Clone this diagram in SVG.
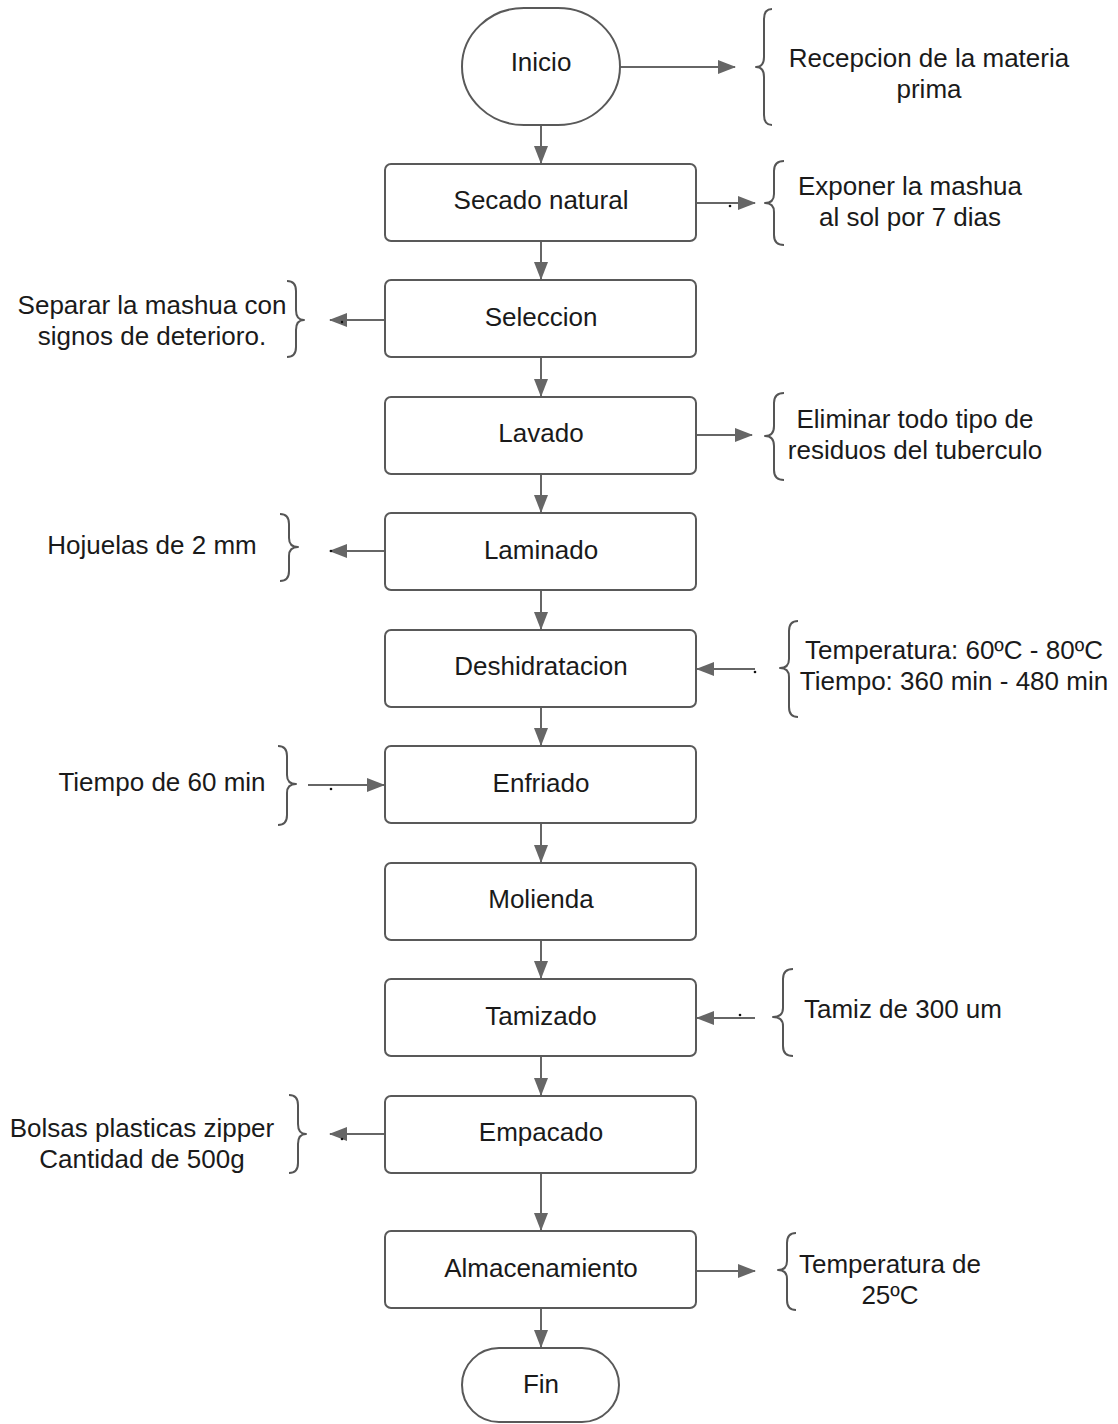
<svg xmlns="http://www.w3.org/2000/svg" width="1118" height="1424" viewBox="0 0 1118 1424">
<style>
.box{fill:#fff;stroke:#595959;stroke-width:2}
.ln{fill:none;stroke:#666;stroke-width:2}
.br{fill:none;stroke:#555;stroke-width:2;stroke-linejoin:round}
text{font-family:"Liberation Sans",Arial,sans-serif;font-size:26px;fill:#1a1a1a}
.c{text-anchor:middle}
</style>
<defs>
<marker id="ahb" markerWidth="18" markerHeight="14" refX="17" refY="7" orient="auto" markerUnits="userSpaceOnUse" viewBox="0 0 18 14">
<path d="M0,0 L18,7 L0,14 z" fill="#666"/>
</marker>
</defs>
<rect width="1118" height="1424" fill="#fff"/>

<g id="connectors">
<line class="ln" x1="541" y1="124" x2="541" y2="163" marker-end="url(#ahb)"/>
<line class="ln" x1="541" y1="241" x2="541" y2="279" marker-end="url(#ahb)"/>
<line class="ln" x1="541" y1="357" x2="541" y2="396" marker-end="url(#ahb)"/>
<line class="ln" x1="541" y1="474" x2="541" y2="512" marker-end="url(#ahb)"/>
<line class="ln" x1="541" y1="590" x2="541" y2="629" marker-end="url(#ahb)"/>
<line class="ln" x1="541" y1="707" x2="541" y2="745" marker-end="url(#ahb)"/>
<line class="ln" x1="541" y1="823" x2="541" y2="862" marker-end="url(#ahb)"/>
<line class="ln" x1="541" y1="940" x2="541" y2="978" marker-end="url(#ahb)"/>
<line class="ln" x1="541" y1="1056" x2="541" y2="1095" marker-end="url(#ahb)"/>
<line class="ln" x1="541" y1="1173" x2="541" y2="1230" marker-end="url(#ahb)"/>
<line class="ln" x1="541" y1="1308" x2="541" y2="1347" marker-end="url(#ahb)"/>

<line class="ln" x1="620" y1="67" x2="735" y2="67" marker-end="url(#ahb)"/>
<line class="ln" x1="696" y1="203" x2="755" y2="203" marker-end="url(#ahb)"/>
<line class="ln" x1="385" y1="320" x2="330" y2="320" marker-end="url(#ahb)"/>
<line class="ln" x1="696" y1="435" x2="752" y2="435" marker-end="url(#ahb)"/>
<line class="ln" x1="385" y1="551" x2="330" y2="551" marker-end="url(#ahb)"/>
<line class="ln" x1="755" y1="669" x2="697" y2="669" marker-end="url(#ahb)"/>
<line class="ln" x1="308" y1="785" x2="384" y2="785" marker-end="url(#ahb)"/>
<line class="ln" x1="755" y1="1018" x2="697" y2="1018" marker-end="url(#ahb)"/>
<line class="ln" x1="385" y1="1134" x2="330" y2="1134" marker-end="url(#ahb)"/>
<line class="ln" x1="696" y1="1271" x2="755" y2="1271" marker-end="url(#ahb)"/>

<g fill="#111">
<circle cx="730" cy="206" r="1.3"/>
<circle cx="342" cy="322" r="1.2"/>
<circle cx="331" cy="551" r="1.3"/>
<circle cx="755" cy="672" r="1.3"/>
<circle cx="331" cy="789" r="1.3"/>
<circle cx="740" cy="1015" r="1.3"/>
<circle cx="342" cy="1139" r="1.3"/>
</g>
</g>

<g id="braces">
<path class="br" d="M772,9 Q764,9 764,19 L764,57 Q764,67 756,67 Q764,67 764,77 L764,115 Q764,125 772,125"/>
<path class="br" d="M784,161 Q774,161 774,171 L774,194 Q774,203 765,203 Q774,203 774,212 L774,235 Q774,245 784,245"/>
<path class="br" d="M287,281 Q296,281 296,291 L296,310 Q296,320 304,320 Q296,320 296,330 L296,347 Q296,357 287,357"/>
<path class="br" d="M784,393 Q774,393 774,403 L774,426 Q774,436 765,436 Q774,436 774,446 L774,470 Q774,480 784,480"/>
<path class="br" d="M280,514 Q289,514 289,524 L289,538 Q289,547 298,547 Q289,547 289,556 L289,571 Q289,581 280,581"/>
<path class="br" d="M798,621 Q789,621 789,631 L789,659 Q789,668 780,668 Q789,668 789,677 L789,707 Q789,717 798,717"/>
<path class="br" d="M278,746 Q287,746 287,756 L287,775 Q287,784 296,784 Q287,784 287,793 L287,815 Q287,825 278,825"/>
<path class="br" d="M793,969 Q783,969 783,979 L783,1008 Q783,1017 773,1017 Q783,1017 783,1026 L783,1046 Q783,1056 793,1056"/>
<path class="br" d="M289,1095 Q298,1095 298,1105 L298,1124 Q298,1134 306,1134 Q298,1134 298,1144 L298,1163 Q298,1173 289,1173"/>
<path class="br" d="M796,1233 Q787,1233 787,1243 L787,1261 Q787,1270 778,1270 Q787,1270 787,1279 L787,1300 Q787,1310 796,1310"/>
</g>

<g id="n-inicio"><rect class="box" x="462" y="8" width="158" height="117" rx="62" ry="58.5"/><text class="c" x="541" y="71">Inicio</text></g>
<g id="n-secado"><rect class="box" x="385" y="164" width="311" height="77" rx="6"/><text class="c" x="541" y="209">Secado natural</text></g>
<g id="n-seleccion"><rect class="box" x="385" y="280" width="311" height="77" rx="6"/><text class="c" x="541" y="326">Seleccion</text></g>
<g id="n-lavado"><rect class="box" x="385" y="397" width="311" height="77" rx="6"/><text class="c" x="541" y="442">Lavado</text></g>
<g id="n-laminado"><rect class="box" x="385" y="513" width="311" height="77" rx="6"/><text class="c" x="541" y="559">Laminado</text></g>
<g id="n-deshidratacion"><rect class="box" x="385" y="630" width="311" height="77" rx="6"/><text class="c" x="541" y="675">Deshidratacion</text></g>
<g id="n-enfriado"><rect class="box" x="385" y="746" width="311" height="77" rx="6"/><text class="c" x="541" y="792">Enfriado</text></g>
<g id="n-molienda"><rect class="box" x="385" y="863" width="311" height="77" rx="6"/><text class="c" x="541" y="908">Molienda</text></g>
<g id="n-tamizado"><rect class="box" x="385" y="979" width="311" height="77" rx="6"/><text class="c" x="541" y="1025">Tamizado</text></g>
<g id="n-empacado"><rect class="box" x="385" y="1096" width="311" height="77" rx="6"/><text class="c" x="541" y="1141">Empacado</text></g>
<g id="n-almacenamiento"><rect class="box" x="385" y="1231" width="311" height="77" rx="6"/><text class="c" x="541" y="1277">Almacenamiento</text></g>
<g id="n-fin"><rect class="box" x="462" y="1348" width="157" height="74" rx="37" ry="37"/><text class="c" x="541" y="1393">Fin</text></g>

<g id="notes">
<text class="c" x="929" y="67">Recepcion de la materia</text>
<text class="c" x="929" y="98">prima</text>
<text class="c" x="910" y="195">Exponer la mashua</text>
<text class="c" x="910" y="226">al sol por 7 dias</text>
<text class="c" x="152" y="314">Separar la mashua con</text>
<text class="c" x="152" y="345">signos de deterioro.</text>
<text class="c" x="915" y="428">Eliminar todo tipo de</text>
<text class="c" x="915" y="459">residuos del tuberculo</text>
<text class="c" x="152" y="554">Hojuelas de 2 mm</text>
<text class="c" x="954" y="659">Temperatura: 60ºC - 80ºC</text>
<text class="c" x="954" y="690">Tiempo: 360 min - 480 min</text>
<text class="c" x="162" y="791">Tiempo de 60 min</text>
<text class="c" x="903" y="1018">Tamiz de 300 um</text>
<text class="c" x="142" y="1137">Bolsas plasticas zipper</text>
<text class="c" x="142" y="1168">Cantidad de 500g</text>
<text class="c" x="890" y="1273">Temperatura de</text>
<text class="c" x="890" y="1304">25ºC</text>
</g>
</svg>
